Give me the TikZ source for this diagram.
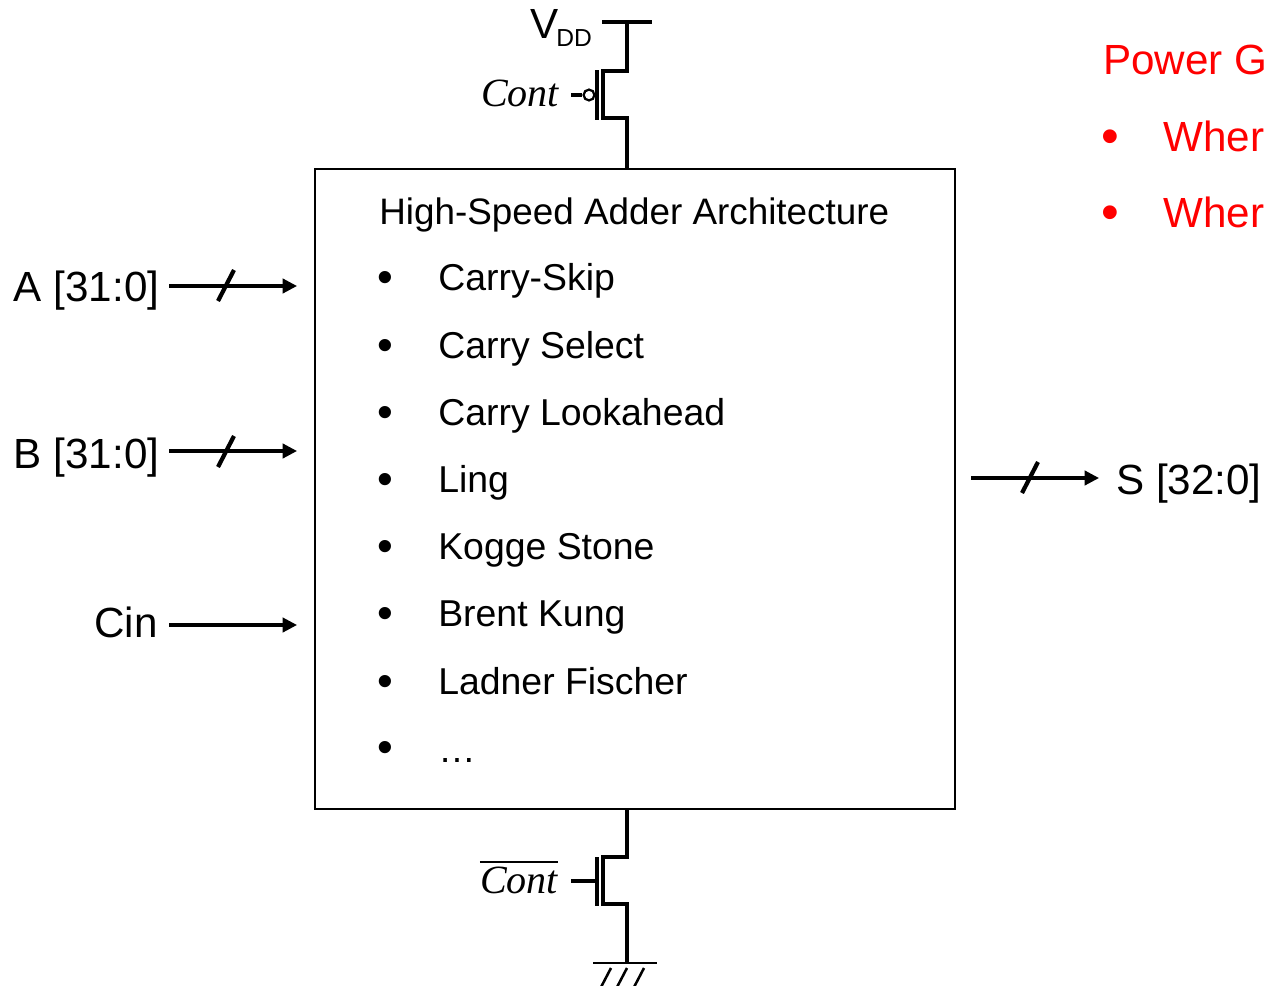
\documentclass[tikz,border=0pt]{standalone}
\usepackage{fontspec}
\setmainfont{Liberation Sans}
\newfontfamily\contfont{Liberation Serif}
\usetikzlibrary{arrows.meta}
\newcommand{\listfont}{\fontsize{26.6}{32}\selectfont}
\newcommand{\portfont}{\fontsize{30}{36}\selectfont}

\begin{document}
\begin{tikzpicture}[
  x=0.025cm,y=-0.025cm,
  addbox/.style={draw,line width=1.5pt},
  listitem/.style={anchor=base west,inner sep=0pt,font=\listfont},
  listdot/.style={anchor=base,inner sep=0pt,yshift=-0.06cm,font=\fontsize{32}{36}\selectfont},
  portlabel/.style={anchor=base east,inner sep=0pt,font=\portfont},
  ctrllabel/.style={anchor=base,inner sep=0pt,font=\fontsize{28.5}{32}\selectfont\contfont\itshape},
  redtext/.style={anchor=base west,inner sep=0pt,font=\portfont,text=red},
  reddot/.style={anchor=base,inner sep=0pt,yshift=-0.07cm,font=\fontsize{36}{40}\selectfont,text=red},
  busline/.style={line width=2.2pt,-{Triangle[length=0.36cm,width=0.36cm]}},
  busmark/.style={line width=3pt},
  wire/.style={line width=2.4pt,miter limit=10},
  gatebar/.style={line width=3pt}
]
  \useasboundingbox (0,0) rectangle (1264,986);
  \clip (0,0) rectangle (1264,986);
  % Adder block
  \node[addbox,minimum width=16cm,minimum height=16cm,inner sep=0pt] (adder) at (635,489) {};
  \node[listitem,font=\fontsize{26.2}{32}\selectfont] (title) at (379,224) {High-Speed Adder Architecture};
  % Adder list
  \node[listdot] (d1) at (385,290) {•};
  \node[listitem] (i1) at (438,290) {Carry-Skip};
  \node[listdot] (d2) at (385,358) {•};
  \node[listitem] (i2) at (438,358) {Carry Select};
  \node[listdot] (d3) at (385,425) {•};
  \node[listitem] (i3) at (438,425) {Carry Lookahead};
  \node[listdot] (d4) at (385,492) {•};
  \node[listitem] (i4) at (438,492) {Ling};
  \node[listdot] (d5) at (385,559) {•};
  \node[listitem] (i5) at (438,559) {Kogge Stone};
  \node[listdot] (d6) at (385,626) {•};
  \node[listitem] (i6) at (438,626) {Brent Kung};
  \node[listdot] (d7) at (385,694) {•};
  \node[listitem] (i7) at (438,694) {Ladner Fischer};
  \node[listdot] (d8) at (385,760) {•};
  \node[listitem] (i8) at (438,762) {…};
  % Inputs
  \node[portlabel] (la) at (159.5,301) {A [31:0]};
  \node[portlabel] (lb) at (159.5,468) {B [31:0]};
  \node[portlabel] (lc) at (158,637) {Cin};
  \coordinate (a0) at (169,286);
  \coordinate (a1) at (297,286);
  \coordinate (b0) at (169,451);
  \coordinate (b1) at (297,451);
  \coordinate (c0) at (169,625);
  \coordinate (c1) at (297,625);
  \draw[busline] (a0) -- (a1);
  \draw[busmark] (218,301) -- (234,270);
  \draw[busline] (b0) -- (b1);
  \draw[busmark] (218,467) -- (234,436);
  \draw[busline] (c0) -- (c1);
  % Output
  \node[anchor=base west,inner sep=0pt,font=\portfont] (ls) at (1116,494) {S [32:0]};
  \coordinate (s0) at (971,478);
  \coordinate (s1) at (1099,478);
  \draw[busline] (s0) -- (s1);
  \draw[busmark] (1022,493) -- (1038,462);
  % Header switch
  \node[anchor=base west,inner sep=0pt,font=\portfont] (vdd) at (530,38)
    {V\hspace{-1.5pt}\raisebox{-6pt}{\fontsize{17.5}{20}\selectfont DD}};
  \node[ctrllabel] (cont) at (520,106) {Cont};
  \coordinate (vt) at (627,22);
  \coordinate (ph) at (627,71);
  \coordinate (pl) at (627,118);
  \draw[line width=3pt] (602,22) -- (652,22);
  \draw[wire] (vt) -- (ph) -- (603,71) -- (603,118) -- (pl) -- (adder.north -| pl);
  \draw[gatebar] (597,70) -- (597,120);
  \node[circle,draw,line width=1.6pt,minimum size=0.27cm,inner sep=0pt] (bub) at (589,95) {};
  \draw[wire] (571,95) -- (bub);
  % Footer switch
  \node[ctrllabel,text height=22pt] (contb) at (519,893) {Cont};
  \draw[line width=1.2pt] (contb.north west) -- (contb.north east);
  \coordinate (nh) at (627,857);
  \coordinate (nl) at (627,904);
  \coordinate (gt) at (627,963);
  \draw[wire] (adder.south -| nh) -- (nh) -- (603,857) -- (603,904) -- (nl) -- (gt);
  \draw[gatebar] (597,857) -- (597,906);
  \draw[wire] (571,881) -- (597,881);
  \draw[line width=1.8pt] (593,963) -- (657,963);
  \draw[line width=1.8pt] (611,968) -- (599,991);
  \draw[line width=1.8pt] (627,968) -- (615,991);
  \draw[line width=1.8pt] (644,968) -- (632,991);
  % Power note
  \node[redtext] (pg) at (1103,74) {Power G};
  \node[reddot] (pd1) at (1110,151) {•};
  \node[redtext] (p1) at (1163,151) {Wher};
  \node[reddot] (pd2) at (1110,227) {•};
  \node[redtext] (p2) at (1163,227) {Wher};
\end{tikzpicture}
\end{document}
